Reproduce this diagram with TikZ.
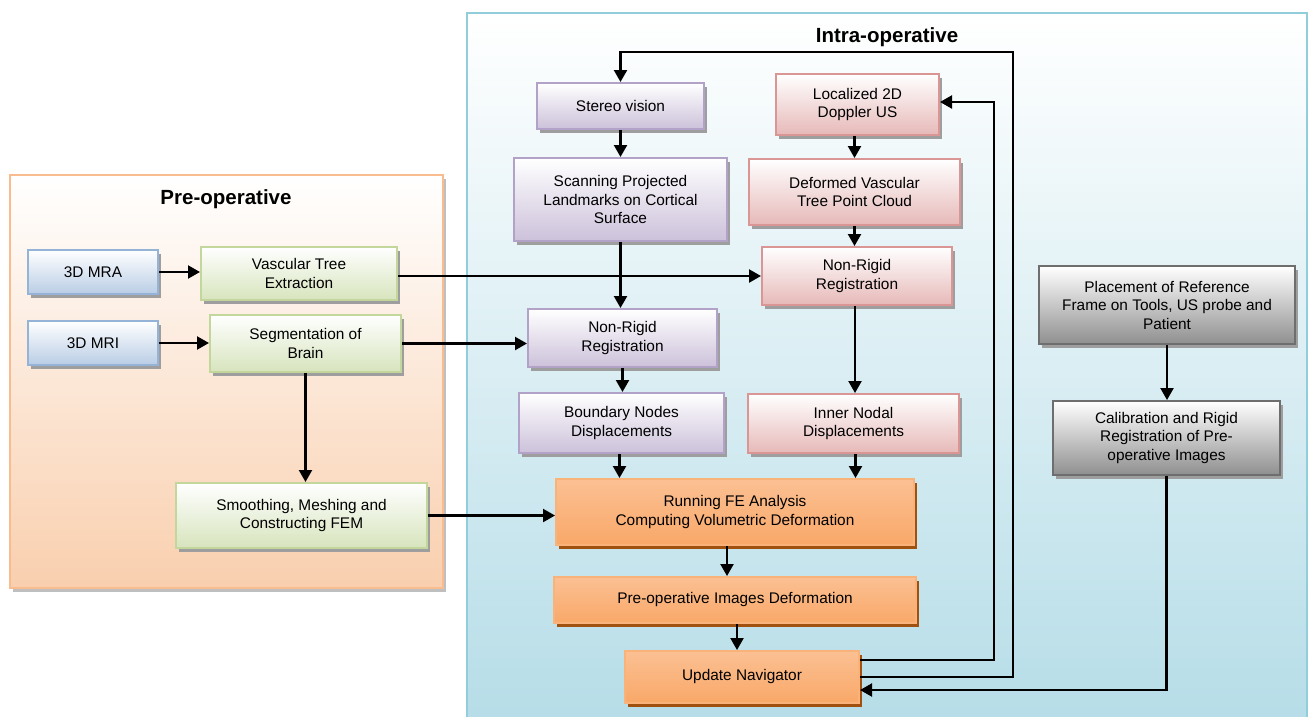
\documentclass[tikz,border=0pt]{standalone}
\usepackage{fontspec}
\setmainfont{Liberation Sans}
\usetikzlibrary{arrows.meta,shadows,calc}
\definecolor{bluebd}{HTML}{95B3D7}\definecolor{bluebt}{HTML}{B9CDE5}
\definecolor{grnbd}{HTML}{C3D69B}\definecolor{grnbt}{HTML}{D7E4BD}
\definecolor{purbd}{HTML}{B3A2C7}\definecolor{purbt}{HTML}{CCC1DA}
\definecolor{redbd}{HTML}{D99694}\definecolor{redbt}{HTML}{E6B9B8}
\definecolor{grybd}{HTML}{6E6E6E}\definecolor{grybt}{HTML}{8F8F8F}
\definecolor{orgbd}{HTML}{F9B27A}\definecolor{orgtp}{HTML}{FBC093}\definecolor{orgmd}{HTML}{F79646}\definecolor{orgbt}{HTML}{F9A868}
\definecolor{orgsh}{HTML}{A0500F}
\definecolor{prebd}{HTML}{F8BC8E}\definecolor{prebt}{HTML}{F9CFAE}
\definecolor{intbd}{HTML}{92CDDC}\definecolor{intbt}{HTML}{B4DCE7}
\tikzset{
  box/.style={draw, line width=2pt, inner sep=0pt, align=center,
    font=\fontsize{15.4}{18.5}\selectfont,
    drop shadow={shadow xshift=3pt, shadow yshift=-4pt, fill=black!38, opacity=1}},
  bluebox/.style={box, draw=bluebd, top color=white, bottom color=bluebt},
  grnbox/.style={box, draw=grnbd, top color=white, bottom color=grnbt},
  purbox/.style={box, draw=purbd, top color=white, bottom color=purbt},
  redbox/.style={box, draw=redbd, top color=white, bottom color=redbt},
  grybox/.style={box, draw=grybd, top color=white, bottom color=grybt},
  orgbox/.style={box, draw=orgbd, top color=orgtp, middle color=orgmd, bottom color=orgbt,
    drop shadow={shadow xshift=3pt, shadow yshift=-4pt, fill=orgsh, opacity=1}},
  arr/.style={line width=2.2pt, -{Triangle[length=12pt,width=13pt]}},
  ttl/.style={font=\fontsize{20.5}{24}\selectfont\bfseries}
}
\begin{document}
\begin{tikzpicture}[x=1pt,y=-1pt]
\useasboundingbox (0,0) rectangle (1308,716);
\fill[white] (0,0) rectangle (1308,716);
% panels
\fill[black!25] (13,179) rectangle (446,592);
\draw[line width=2pt, draw=prebd, top color=white, bottom color=prebt] (10,175) rectangle (443,588);
\node[ttl] (pret) at (226,199) {Pre-operative};
\begin{scope}
\clip (0,0) rectangle (1308,716);
\draw[line width=2pt, draw=intbd, top color=white, bottom color=intbt] (467,13) rectangle (1306.5,740);
\end{scope}
\node[ttl] (intt) at (887,37) {Intra-operative};
% nodes
\node[bluebox, minimum width=130pt, minimum height=44pt] (mra) at (93,272) {3D MRA};
\node[bluebox, minimum width=130pt, minimum height=44pt] (mri) at (93,343) {3D MRI};
\node[grnbox, minimum width=196pt, minimum height=53pt] (vte) at (299,273.5) {Vascular Tree\\Extraction};
\node[grnbox, minimum width=191pt, minimum height=57pt] (seg) at (305.5,343.5) {Segmentation of\\Brain};
\node[grnbox, minimum width=251pt, minimum height=65pt] (smo) at (301.5,515.5) {Smoothing, Meshing and\\Constructing FEM};
\node[purbox, minimum width=167pt, minimum height=46pt] (ster) at (620.5,106) {Stereo vision};
\node[purbox, minimum width=213pt, minimum height=83pt] (scan) at (620.5,199.5) {Scanning Projected\\Landmarks on Cortical\\Surface};
\node[purbox, minimum width=189pt, minimum height=58pt] (nrp) at (622.5,338) {Non-Rigid\\Registration};
\node[purbox, minimum width=205pt, minimum height=60pt] (bnd) at (621.5,423) {Boundary Nodes\\Displacements};
\node[redbox, minimum width=163pt, minimum height=61pt] (loc) at (857.5,104.5) {Localized 2D\\Doppler US};
\node[redbox, minimum width=211pt, minimum height=66pt] (def) at (854.5,192) {Deformed Vascular\\Tree Point Cloud};
\node[redbox, minimum width=190pt, minimum height=58pt] (nrr) at (857,276) {Non-Rigid\\Registration};
\node[redbox, minimum width=211pt, minimum height=59pt] (inn) at (853.5,423.5) {Inner Nodal\\Displacements};
\node[orgbox, minimum width=358pt, minimum height=66pt] (fe) at (735,512) {Running FE Analysis\\Computing Volumetric Deformation};
\node[orgbox, minimum width=362pt, minimum height=46pt] (pid) at (735,600) {Pre-operative Images Deformation};
\node[orgbox, minimum width=234pt, minimum height=52pt] (upd) at (742,677) {Update Navigator};
\node[grybox, minimum width=256pt, minimum height=78pt] (plc) at (1167,305) {Placement of Reference\\Frame on Tools, US probe and\\Patient};
\node[grybox, minimum width=227pt, minimum height=74pt] (cal) at (1166.5,438) {Calibration and Rigid\\Registration of Pre-\\operative Images};
\coordinate (c1) at (994,102);
\coordinate (c2) at (1013,52);
% connectors
\draw[arr] (mra.east) -- (mra.east -| vte.west);
\draw[arr] (mri.east) -- (mri.east -| seg.west);
\draw[arr] (vte.east |- nrr.west) -- (nrr.west);
\draw[arr] (seg.east) -- (seg.east -| nrp.west);
\draw[arr] (seg.south) -- (seg.south |- smo.north);
\draw[arr] (smo.east) -- (smo.east -| fe.west);
\draw[arr] (ster.south) -- (ster.south |- scan.north);
\draw[arr] (scan.south) -- (scan.south |- nrp.north);
\draw[arr] (nrp.south) -- (nrp.south |- bnd.north);
\draw[arr] ([xshift=-2pt]bnd.south) -- ([xshift=-2pt]bnd.south |- fe.north);
\draw[arr] (def.north |- loc.south) -- (def.north);
\draw[arr] (def.south) -- (def.south |- nrr.north);
\draw[arr] ([xshift=-2pt]nrr.south) -- ([xshift=-2pt]nrr.south |- inn.north);
\draw[arr] ([xshift=2pt]inn.south) -- ([xshift=2pt]inn.south |- fe.north);
\draw[arr] ([xshift=-8pt]fe.south) -- ([xshift=-8pt]fe.south |- pid.north);
\draw[arr] ([xshift=-5pt]upd.north |- pid.south) -- ([xshift=-5pt]upd.north);
\draw[arr] (plc.south) -- (plc.south |- cal.north);
\draw[arr] (cal.south) |- ([yshift=-13pt]upd.east);
\draw[arr] ([yshift=17pt]upd.east) -| (c1) -- (c1 -| loc.east);
\draw[arr] (upd.east) -| (c2) -| (ster.north);
\end{tikzpicture}
\end{document}
